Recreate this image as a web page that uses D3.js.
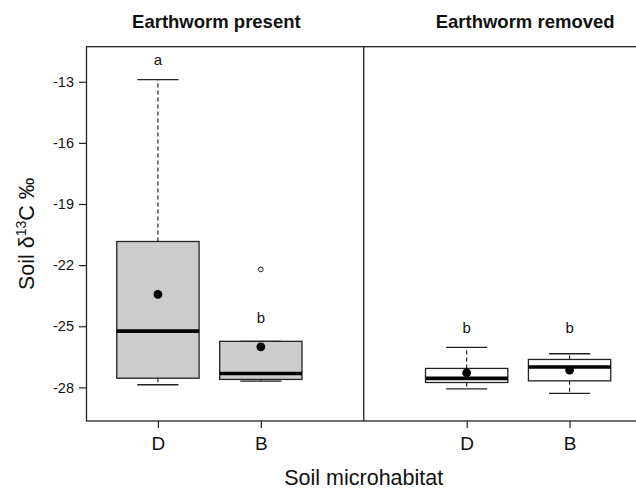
<!DOCTYPE html>
<html><head><meta charset="utf-8">
<script src="https://cdn.jsdelivr.net/npm/d3@7/dist/d3.min.js"></script>
<style>body{margin:0;background:#fff}svg{display:block}text{font-family:"Liberation Sans",Arial,sans-serif}</style>
</head><body><div id="chart"></div>
<script>
const panels = ["Earthworm present", "Earthworm removed"];
const categories = ["D", "B", "D", "B"];
const positions = [1, 2, 4, 5];
const panelOf = [0, 0, 1, 1];
const whiskerLow = [-27.87, -27.69, -28.07, -28.29];
const q1 = [-27.55, -27.61, -27.76, -27.68];
const median = [-25.24, -27.32, -27.56, -27.0];
const q3 = [-20.84, -25.74, -27.07, -26.63];
const whiskerHigh = [-12.9, -25.74, -26.04, -26.35];
const means = [-23.44, -26.01, -27.29, -27.15];
const outliers = [[], [-22.21], [], []];
const letters = ["a", "b", "b", "b"];
const letterY = [-12.18, -24.83, -25.32, -25.32];
const yTicks = [-13, -16, -19, -22, -25, -28];
const panelFill = ["#cccccc", "#ffffff"];

(function () {
const W = 636, H = 490;
const svg = d3.select("#chart").append("svg").attr("width", W).attr("height", H);
const pl = 86.5, pr = 641, pt = 46.7, pb = 421;
const x = d3.scaleLinear().domain([0.306, 5.694]).range([pl, pr]);
const y = d3.scaleLinear().domain([-29.65, -11.28]).range([pb, pt]);
const unit = x(1) - x(0);
const ink = "#222";

// frame
svg.append("rect").attr("x", pl).attr("y", pt).attr("width", pr - pl).attr("height", pb - pt)
  .attr("fill", "none").attr("stroke", ink).attr("stroke-width", 1.3);
svg.append("line").attr("x1", x(3)).attr("x2", x(3)).attr("y1", pt).attr("y2", pb)
  .attr("stroke", ink).attr("stroke-width", 1.3);

// y axis
const yAxis = d3.axisLeft(y).tickValues(yTicks).tickSize(7.5).tickPadding(5).tickFormat(d => d);
const gy = svg.append("g").attr("transform", `translate(${pl},0)`).call(yAxis);
gy.select(".domain").remove();
gy.selectAll(".tick line").attr("stroke", ink).attr("stroke-width", 1.2);
gy.selectAll(".tick text").attr("font-size", 14.5).attr("fill", "#111").attr("font-family", "Liberation Sans, Arial, sans-serif");

// x axis
const xAxis = d3.axisBottom(x).tickValues(positions).tickSize(7).tickPadding(9).tickFormat((d, i) => categories[i]);
const gx = svg.append("g").attr("transform", `translate(0,${pb})`).call(xAxis);
gx.select(".domain").remove();
gx.selectAll(".tick line").attr("stroke", ink).attr("stroke-width", 1.2);
gx.selectAll(".tick text").attr("font-size", 19).attr("fill", "#111").attr("font-family", "Liberation Sans, Arial, sans-serif");

// boxes
const bw = 0.8 * unit, cw = 0.4 * unit;
positions.forEach((p, i) => {
  const g = svg.append("g");
  const cx = x(p);
  g.append("line").attr("x1", cx).attr("x2", cx).attr("y1", y(q3[i])).attr("y2", y(whiskerHigh[i]))
    .attr("stroke", ink).attr("stroke-width", 1.2).attr("stroke-dasharray", "4,3");
  g.append("line").attr("x1", cx).attr("x2", cx).attr("y1", y(q1[i])).attr("y2", y(whiskerLow[i]))
    .attr("stroke", ink).attr("stroke-width", 1.2).attr("stroke-dasharray", "4,3");
  [whiskerHigh[i], whiskerLow[i]].forEach(v => {
    g.append("line").attr("x1", cx - cw / 2).attr("x2", cx + cw / 2).attr("y1", y(v)).attr("y2", y(v))
      .attr("stroke", ink).attr("stroke-width", 1.3);
  });
  g.append("rect").attr("x", cx - bw / 2).attr("width", bw).attr("y", y(q3[i])).attr("height", y(q1[i]) - y(q3[i]))
    .attr("fill", panelFill[panelOf[i]]).attr("stroke", ink).attr("stroke-width", 1.3);
  g.append("line").attr("x1", cx - bw / 2).attr("x2", cx + bw / 2).attr("y1", y(median[i])).attr("y2", y(median[i]))
    .attr("stroke", "#000").attr("stroke-width", 3.6);
  outliers[i].forEach(v => {
    g.append("circle").attr("cx", cx).attr("cy", y(v)).attr("r", 2.4).attr("fill", "none").attr("stroke", ink).attr("stroke-width", 1);
  });
  g.append("circle").attr("cx", cx).attr("cy", y(means[i])).attr("r", 4.4).attr("fill", "#000");
  g.append("text").attr("x", cx).attr("y", y(letterY[i])).attr("text-anchor", "middle")
    .attr("font-size", 15).attr("fill", "#111").text(letters[i]);
});

// panel titles
[1.5, 4.5].forEach((c, i) => {
  svg.append("text").attr("x", x(c) + 7).attr("y", 27.5).attr("text-anchor", "middle")
    .attr("font-size", 18.5).attr("font-weight", "bold").attr("fill", "#111").text(panels[i]);
});

// axis titles
svg.append("text").attr("x", (pl + pr) / 2).attr("y", 485).attr("text-anchor", "middle")
  .attr("font-size", 21.5).attr("fill", "#111").text("Soil microhabitat");
const yl = svg.append("text").attr("transform", `translate(34,${(pt + pb) / 2}) rotate(-90)`)
  .attr("text-anchor", "middle").attr("font-size", 21.5).attr("fill", "#111");
yl.append("tspan").text("Soil \u03B4");
yl.append("tspan").attr("font-size", 14).attr("dy", -8).text("13");
yl.append("tspan").attr("dy", 8).text("C \u2030");
})();
</script></body></html>
